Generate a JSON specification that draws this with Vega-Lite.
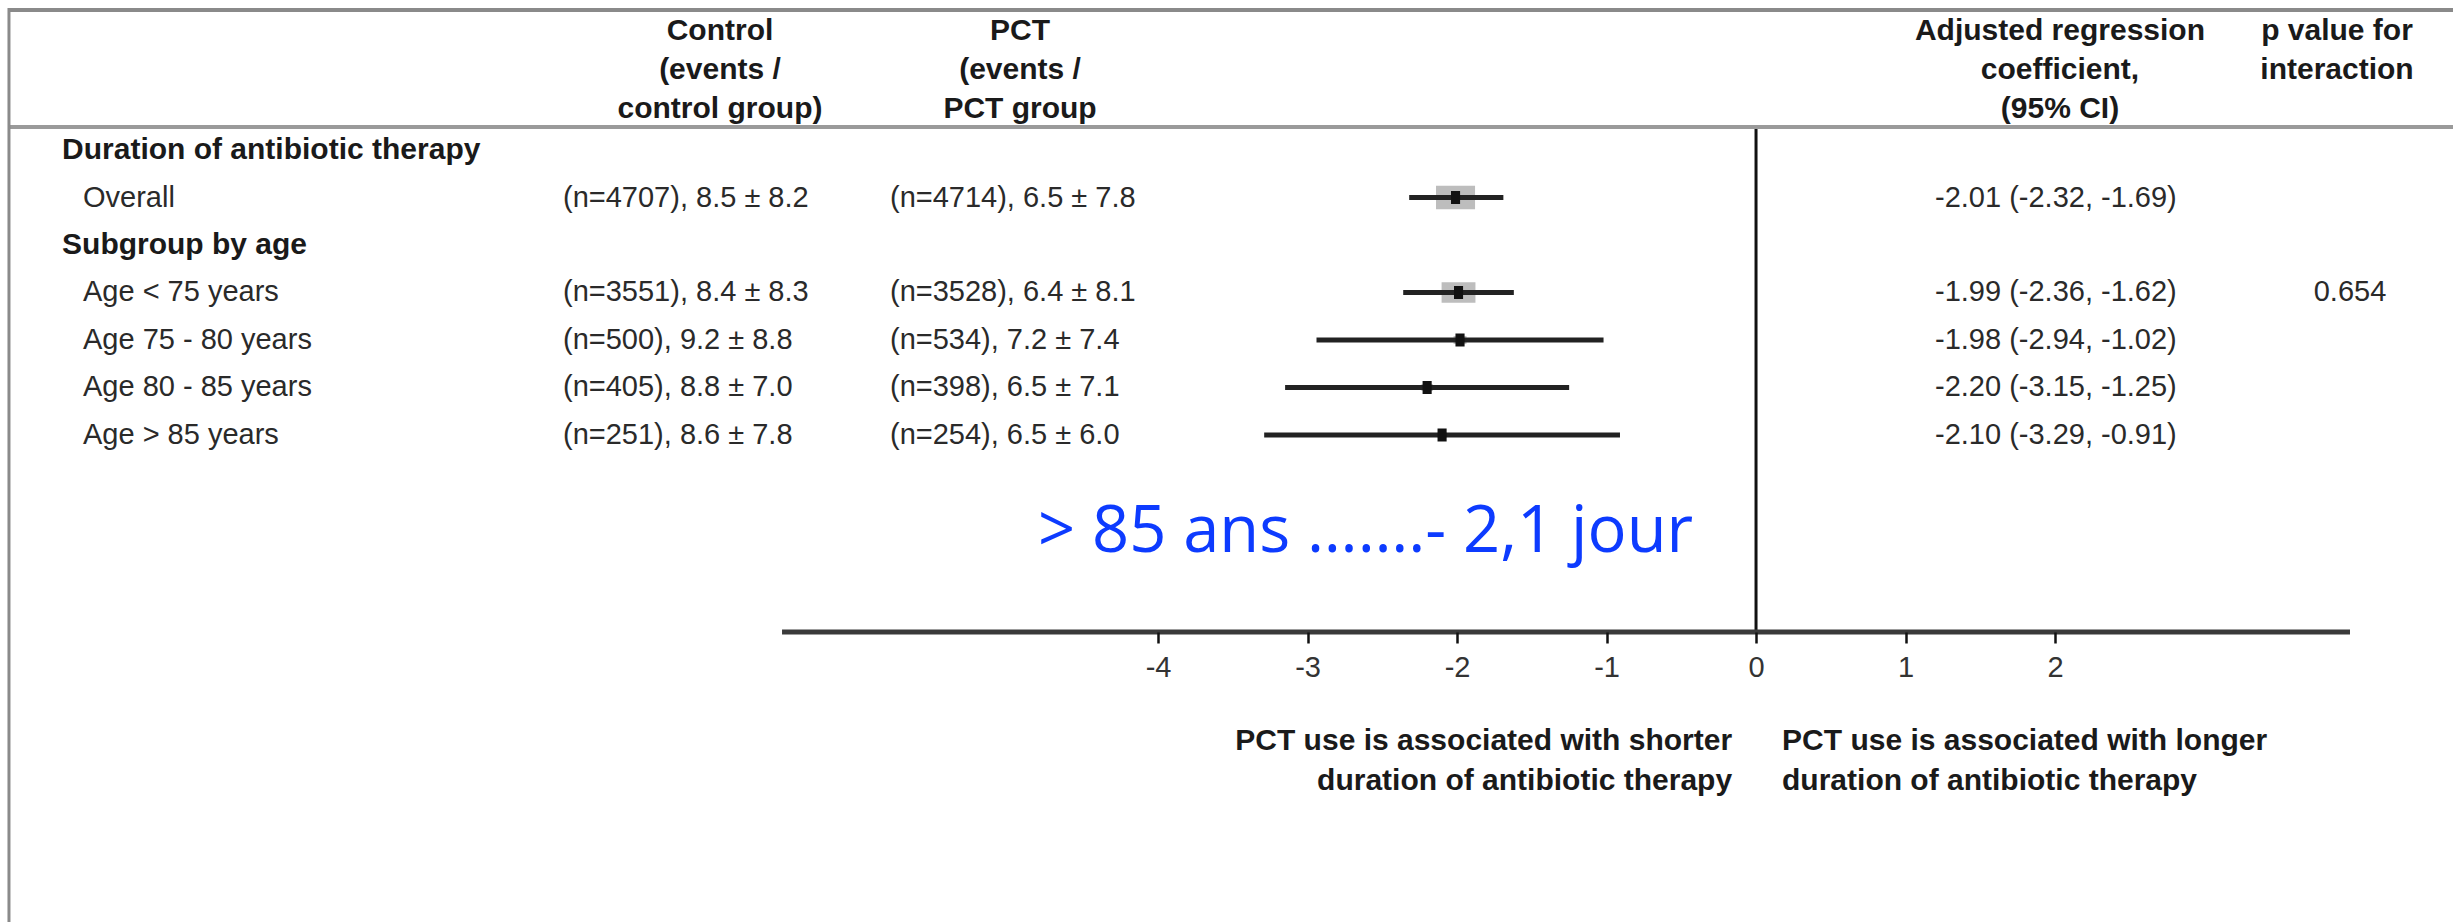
{
  "$schema": "https://vega.github.io/schema/vega-lite/v6.json",
  "width": 2453,
  "height": 922,
  "autosize": "none",
  "padding": 0,
  "background": "white",
  "config": {"view": {"stroke": null}},
  "data": {"values": [
    {"row": 0, "kind": "section", "label": "Duration of antibiotic therapy"},
    {"row": 1, "kind": "item", "label": "Overall", "control": "(n=4707), 8.5 ± 8.2", "pct": "(n=4714), 6.5 ± 7.8", "coef": "-2.01 (-2.32, -1.69)", "est": -2.01, "lo": -2.32, "hi": -1.69, "n": 9421},
    {"row": 2, "kind": "section", "label": "Subgroup by age"},
    {"row": 3, "kind": "item", "label": "Age < 75 years", "control": "(n=3551), 8.4 ± 8.3", "pct": "(n=3528), 6.4 ± 8.1", "coef": "-1.99 (-2.36, -1.62)", "p": "0.654", "est": -1.99, "lo": -2.36, "hi": -1.62, "n": 7079},
    {"row": 4, "kind": "item", "label": "Age 75 - 80 years", "control": "(n=500), 9.2 ± 8.8", "pct": "(n=534), 7.2 ± 7.4", "coef": "-1.98 (-2.94, -1.02)", "est": -1.98, "lo": -2.94, "hi": -1.02, "n": 1034},
    {"row": 5, "kind": "item", "label": "Age 80 - 85 years", "control": "(n=405), 8.8 ± 7.0", "pct": "(n=398), 6.5 ± 7.1", "coef": "-2.20 (-3.15, -1.25)", "est": -2.20, "lo": -3.15, "hi": -1.25, "n": 803},
    {"row": 6, "kind": "item", "label": "Age > 85 years", "control": "(n=251), 8.6 ± 7.8", "pct": "(n=254),  6.5 ± 6.0", "coef": "-2.10 (-3.29, -0.91)", "est": -2.10, "lo": -3.29, "hi": -0.91, "n": 505}
  ]},
  "layer": [
    {
      "data": {"values": [{}]},
      "mark": {"type": "rule", "color": "#8a8a8a", "strokeWidth": 4},
      "encoding": {
        "x": {"datum": -11.686, "scale": {"domain": [-11.746, 4.662], "nice": false, "zero": false}, "axis": {"orient": "bottom", "offset": -290, "domain": false, "grid": false, "title": null, "values": [-4, -3, -2, -1, 0, 1, 2], "tickSize": 11, "tickWidth": 2.5, "tickColor": "#111111", "labelFont": "Liberation Sans", "labelFontSize": 29, "labelColor": "#333333", "labelPadding": 10, "labelFlush": false, "labelOverlap": false, "labelExpr": "datum.value + ''", "zindex": 1}},
        "x2": {"datum": 4.662},
        "y": {"datum": -2.947, "scale": {"domain": [-3.158, 16.253], "reverse": true, "nice": false, "zero": false}, "axis": null}
      }
    },
    {
      "data": {"values": [{}]},
      "mark": {"type": "rule", "color": "#9a9a9a", "strokeWidth": 4},
      "encoding": {
        "x": {"datum": -11.686, "scale": {"domain": [-11.746, 4.662], "nice": false, "zero": false}, "axis": {"orient": "bottom", "offset": -290, "domain": false, "grid": false, "title": null, "values": [-4, -3, -2, -1, 0, 1, 2], "tickSize": 11, "tickWidth": 2.5, "tickColor": "#111111", "labelFont": "Liberation Sans", "labelFontSize": 29, "labelColor": "#333333", "labelPadding": 10, "labelFlush": false, "labelOverlap": false, "labelExpr": "datum.value + ''", "zindex": 1}},
        "x2": {"datum": 4.662},
        "y": {"datum": -0.484, "scale": {"domain": [-3.158, 16.253], "reverse": true, "nice": false, "zero": false}, "axis": null}
      }
    },
    {
      "data": {"values": [{}]},
      "mark": {"type": "rule", "color": "#8a8a8a", "strokeWidth": 3},
      "encoding": {
        "x": {"datum": -11.686, "scale": {"domain": [-11.746, 4.662], "nice": false, "zero": false}, "axis": {"orient": "bottom", "offset": -290, "domain": false, "grid": false, "title": null, "values": [-4, -3, -2, -1, 0, 1, 2], "tickSize": 11, "tickWidth": 2.5, "tickColor": "#111111", "labelFont": "Liberation Sans", "labelFontSize": 29, "labelColor": "#333333", "labelPadding": 10, "labelFlush": false, "labelOverlap": false, "labelExpr": "datum.value + ''", "zindex": 1}},
        "y": {"datum": -2.99, "scale": {"domain": [-3.158, 16.253], "reverse": true, "nice": false, "zero": false}, "axis": null},
        "y2": {"datum": 16.253}
      }
    },
    {
      "data": {"values": [{}]},
      "mark": {"type": "rule", "color": "#111111", "strokeWidth": 3},
      "encoding": {
        "x": {"datum": 0, "scale": {"domain": [-11.746, 4.662], "nice": false, "zero": false}, "axis": {"orient": "bottom", "offset": -290, "domain": false, "grid": false, "title": null, "values": [-4, -3, -2, -1, 0, 1, 2], "tickSize": 11, "tickWidth": 2.5, "tickColor": "#111111", "labelFont": "Liberation Sans", "labelFontSize": 29, "labelColor": "#333333", "labelPadding": 10, "labelFlush": false, "labelOverlap": false, "labelExpr": "datum.value + ''", "zindex": 1}},
        "y": {"datum": -0.442, "scale": {"domain": [-3.158, 16.253], "reverse": true, "nice": false, "zero": false}, "axis": null},
        "y2": {"datum": 10.147}
      }
    },
    {
      "data": {"values": [{}]},
      "mark": {"type": "rule", "color": "#3a3a3a", "strokeWidth": 5},
      "encoding": {
        "x": {"datum": -6.515, "scale": {"domain": [-11.746, 4.662], "nice": false, "zero": false}, "axis": {"orient": "bottom", "offset": -290, "domain": false, "grid": false, "title": null, "values": [-4, -3, -2, -1, 0, 1, 2], "tickSize": 11, "tickWidth": 2.5, "tickColor": "#111111", "labelFont": "Liberation Sans", "labelFontSize": 29, "labelColor": "#333333", "labelPadding": 10, "labelFlush": false, "labelOverlap": false, "labelExpr": "datum.value + ''", "zindex": 1}},
        "x2": {"datum": 3.973},
        "y": {"datum": 10.147, "scale": {"domain": [-3.158, 16.253], "reverse": true, "nice": false, "zero": false}, "axis": null}
      }
    },
    {
      "transform": [{"filter": "isValid(datum.est)"}],
      "mark": {"type": "point", "filled": true, "color": "#bdbdbd", "opacity": 1, "shape": "M-1.65,-1H1.65V1H-1.65Z"},
      "encoding": {
        "x": {"field": "est", "type": "quantitative", "scale": {"domain": [-11.746, 4.662], "nice": false, "zero": false}, "axis": {"orient": "bottom", "offset": -290, "domain": false, "grid": false, "title": null, "values": [-4, -3, -2, -1, 0, 1, 2], "tickSize": 11, "tickWidth": 2.5, "tickColor": "#111111", "labelFont": "Liberation Sans", "labelFontSize": 29, "labelColor": "#333333", "labelPadding": 10, "labelFlush": false, "labelOverlap": false, "labelExpr": "datum.value + ''", "zindex": 1}},
        "y": {"field": "row", "type": "quantitative", "scale": {"domain": [-3.158, 16.253], "reverse": true, "nice": false, "zero": false}, "axis": null},
        "size": {"field": "n", "type": "quantitative", "scale": {"domain": [0, 9421], "range": [0, 560]}, "legend": null}
      }
    },
    {
      "transform": [{"filter": "isValid(datum.est)"}],
      "mark": {"type": "rule", "color": "#222222", "strokeWidth": 5},
      "encoding": {
        "x": {"field": "lo", "type": "quantitative", "scale": {"domain": [-11.746, 4.662], "nice": false, "zero": false}, "axis": {"orient": "bottom", "offset": -290, "domain": false, "grid": false, "title": null, "values": [-4, -3, -2, -1, 0, 1, 2], "tickSize": 11, "tickWidth": 2.5, "tickColor": "#111111", "labelFont": "Liberation Sans", "labelFontSize": 29, "labelColor": "#333333", "labelPadding": 10, "labelFlush": false, "labelOverlap": false, "labelExpr": "datum.value + ''", "zindex": 1}},
        "x2": {"field": "hi"},
        "y": {"field": "row", "type": "quantitative", "scale": {"domain": [-3.158, 16.253], "reverse": true, "nice": false, "zero": false}, "axis": null}
      }
    },
    {
      "transform": [{"filter": "isValid(datum.est)"}],
      "mark": {"type": "point", "filled": true, "color": "#111111", "opacity": 1, "size": 169, "shape": "M-0.7,-1H0.7V1H-0.7Z"},
      "encoding": {
        "x": {"field": "est", "type": "quantitative", "scale": {"domain": [-11.746, 4.662], "nice": false, "zero": false}, "axis": {"orient": "bottom", "offset": -290, "domain": false, "grid": false, "title": null, "values": [-4, -3, -2, -1, 0, 1, 2], "tickSize": 11, "tickWidth": 2.5, "tickColor": "#111111", "labelFont": "Liberation Sans", "labelFontSize": 29, "labelColor": "#333333", "labelPadding": 10, "labelFlush": false, "labelOverlap": false, "labelExpr": "datum.value + ''", "zindex": 1}},
        "y": {"field": "row", "type": "quantitative", "scale": {"domain": [-3.158, 16.253], "reverse": true, "nice": false, "zero": false}, "axis": null}
      }
    },
    {
      "transform": [{"filter": "datum.kind == 'section'"}],
      "mark": {"type": "text", "align": "left", "baseline": "middle", "font": "Liberation Sans", "fontSize": 30, "fontWeight": "bold", "color": "#1a1a1a"},
      "encoding": {
        "x": {"datum": -11.331, "scale": {"domain": [-11.746, 4.662], "nice": false, "zero": false}, "axis": {"orient": "bottom", "offset": -290, "domain": false, "grid": false, "title": null, "values": [-4, -3, -2, -1, 0, 1, 2], "tickSize": 11, "tickWidth": 2.5, "tickColor": "#111111", "labelFont": "Liberation Sans", "labelFontSize": 29, "labelColor": "#333333", "labelPadding": 10, "labelFlush": false, "labelOverlap": false, "labelExpr": "datum.value + ''", "zindex": 1}},
        "y": {"field": "row", "type": "quantitative", "scale": {"domain": [-3.158, 16.253], "reverse": true, "nice": false, "zero": false}, "axis": null},
        "text": {"field": "label", "type": "nominal"}
      }
    },
    {
      "transform": [{"filter": "datum.kind == 'item'"}],
      "mark": {"type": "text", "align": "left", "baseline": "middle", "font": "Liberation Sans", "fontSize": 29, "color": "#2a2a2a"},
      "encoding": {
        "x": {"datum": -11.191, "scale": {"domain": [-11.746, 4.662], "nice": false, "zero": false}, "axis": {"orient": "bottom", "offset": -290, "domain": false, "grid": false, "title": null, "values": [-4, -3, -2, -1, 0, 1, 2], "tickSize": 11, "tickWidth": 2.5, "tickColor": "#111111", "labelFont": "Liberation Sans", "labelFontSize": 29, "labelColor": "#333333", "labelPadding": 10, "labelFlush": false, "labelOverlap": false, "labelExpr": "datum.value + ''", "zindex": 1}},
        "y": {"field": "row", "type": "quantitative", "scale": {"domain": [-3.158, 16.253], "reverse": true, "nice": false, "zero": false}, "axis": null},
        "text": {"field": "label", "type": "nominal"}
      }
    },
    {
      "transform": [{"filter": "datum.kind == 'item'"}],
      "mark": {"type": "text", "align": "left", "baseline": "middle", "font": "Liberation Sans", "fontSize": 29, "color": "#2a2a2a"},
      "encoding": {
        "x": {"datum": -7.98, "scale": {"domain": [-11.746, 4.662], "nice": false, "zero": false}, "axis": {"orient": "bottom", "offset": -290, "domain": false, "grid": false, "title": null, "values": [-4, -3, -2, -1, 0, 1, 2], "tickSize": 11, "tickWidth": 2.5, "tickColor": "#111111", "labelFont": "Liberation Sans", "labelFontSize": 29, "labelColor": "#333333", "labelPadding": 10, "labelFlush": false, "labelOverlap": false, "labelExpr": "datum.value + ''", "zindex": 1}},
        "y": {"field": "row", "type": "quantitative", "scale": {"domain": [-3.158, 16.253], "reverse": true, "nice": false, "zero": false}, "axis": null},
        "text": {"field": "control", "type": "nominal"}
      }
    },
    {
      "transform": [{"filter": "datum.kind == 'item'"}],
      "mark": {"type": "text", "align": "left", "baseline": "middle", "font": "Liberation Sans", "fontSize": 29, "color": "#2a2a2a"},
      "encoding": {
        "x": {"datum": -5.793, "scale": {"domain": [-11.746, 4.662], "nice": false, "zero": false}, "axis": {"orient": "bottom", "offset": -290, "domain": false, "grid": false, "title": null, "values": [-4, -3, -2, -1, 0, 1, 2], "tickSize": 11, "tickWidth": 2.5, "tickColor": "#111111", "labelFont": "Liberation Sans", "labelFontSize": 29, "labelColor": "#333333", "labelPadding": 10, "labelFlush": false, "labelOverlap": false, "labelExpr": "datum.value + ''", "zindex": 1}},
        "y": {"field": "row", "type": "quantitative", "scale": {"domain": [-3.158, 16.253], "reverse": true, "nice": false, "zero": false}, "axis": null},
        "text": {"field": "pct", "type": "nominal"}
      }
    },
    {
      "transform": [{"filter": "datum.kind == 'item'"}],
      "mark": {"type": "text", "align": "left", "baseline": "middle", "font": "Liberation Sans", "fontSize": 29, "color": "#2a2a2a"},
      "encoding": {
        "x": {"datum": 1.197, "scale": {"domain": [-11.746, 4.662], "nice": false, "zero": false}, "axis": {"orient": "bottom", "offset": -290, "domain": false, "grid": false, "title": null, "values": [-4, -3, -2, -1, 0, 1, 2], "tickSize": 11, "tickWidth": 2.5, "tickColor": "#111111", "labelFont": "Liberation Sans", "labelFontSize": 29, "labelColor": "#333333", "labelPadding": 10, "labelFlush": false, "labelOverlap": false, "labelExpr": "datum.value + ''", "zindex": 1}},
        "y": {"field": "row", "type": "quantitative", "scale": {"domain": [-3.158, 16.253], "reverse": true, "nice": false, "zero": false}, "axis": null},
        "text": {"field": "coef", "type": "nominal"}
      }
    },
    {
      "transform": [{"filter": "isValid(datum.p)"}],
      "mark": {"type": "text", "align": "center", "baseline": "middle", "font": "Liberation Sans", "fontSize": 29, "color": "#2a2a2a"},
      "encoding": {
        "x": {"datum": 3.973, "scale": {"domain": [-11.746, 4.662], "nice": false, "zero": false}, "axis": {"orient": "bottom", "offset": -290, "domain": false, "grid": false, "title": null, "values": [-4, -3, -2, -1, 0, 1, 2], "tickSize": 11, "tickWidth": 2.5, "tickColor": "#111111", "labelFont": "Liberation Sans", "labelFontSize": 29, "labelColor": "#333333", "labelPadding": 10, "labelFlush": false, "labelOverlap": false, "labelExpr": "datum.value + ''", "zindex": 1}},
        "y": {"field": "row", "type": "quantitative", "scale": {"domain": [-3.158, 16.253], "reverse": true, "nice": false, "zero": false}, "axis": null},
        "text": {"field": "p", "type": "nominal"}
      }
    },
    {
      "data": {"values": [{}]},
      "mark": {"type": "text", "align": "center", "baseline": "middle", "font": "Liberation Sans", "fontSize": 30, "fontWeight": "bold", "color": "#1a1a1a", "lineHeight": 39, "text": ["Control", "(events /", "control group)"]},
      "encoding": {
        "x": {"datum": -6.93, "scale": {"domain": [-11.746, 4.662], "nice": false, "zero": false}, "axis": {"orient": "bottom", "offset": -290, "domain": false, "grid": false, "title": null, "values": [-4, -3, -2, -1, 0, 1, 2], "tickSize": 11, "tickWidth": 2.5, "tickColor": "#111111", "labelFont": "Liberation Sans", "labelFontSize": 29, "labelColor": "#333333", "labelPadding": 10, "labelFlush": false, "labelOverlap": false, "labelExpr": "datum.value + ''", "zindex": 1}},
        "y": {"datum": -2.505, "scale": {"domain": [-3.158, 16.253], "reverse": true, "nice": false, "zero": false}, "axis": null}
      }
    },
    {
      "data": {"values": [{}]},
      "mark": {"type": "text", "align": "center", "baseline": "middle", "font": "Liberation Sans", "fontSize": 30, "fontWeight": "bold", "color": "#1a1a1a", "lineHeight": 39, "text": ["PCT", "(events /", "PCT group"]},
      "encoding": {
        "x": {"datum": -4.923, "scale": {"domain": [-11.746, 4.662], "nice": false, "zero": false}, "axis": {"orient": "bottom", "offset": -290, "domain": false, "grid": false, "title": null, "values": [-4, -3, -2, -1, 0, 1, 2], "tickSize": 11, "tickWidth": 2.5, "tickColor": "#111111", "labelFont": "Liberation Sans", "labelFontSize": 29, "labelColor": "#333333", "labelPadding": 10, "labelFlush": false, "labelOverlap": false, "labelExpr": "datum.value + ''", "zindex": 1}},
        "y": {"datum": -2.505, "scale": {"domain": [-3.158, 16.253], "reverse": true, "nice": false, "zero": false}, "axis": null}
      }
    },
    {
      "data": {"values": [{}]},
      "mark": {"type": "text", "align": "center", "baseline": "middle", "font": "Liberation Sans", "fontSize": 30, "fontWeight": "bold", "color": "#1a1a1a", "lineHeight": 39, "text": ["Adjusted regression", "coefficient,", "(95% CI)"]},
      "encoding": {
        "x": {"datum": 2.033, "scale": {"domain": [-11.746, 4.662], "nice": false, "zero": false}, "axis": {"orient": "bottom", "offset": -290, "domain": false, "grid": false, "title": null, "values": [-4, -3, -2, -1, 0, 1, 2], "tickSize": 11, "tickWidth": 2.5, "tickColor": "#111111", "labelFont": "Liberation Sans", "labelFontSize": 29, "labelColor": "#333333", "labelPadding": 10, "labelFlush": false, "labelOverlap": false, "labelExpr": "datum.value + ''", "zindex": 1}},
        "y": {"datum": -2.505, "scale": {"domain": [-3.158, 16.253], "reverse": true, "nice": false, "zero": false}, "axis": null}
      }
    },
    {
      "data": {"values": [{}]},
      "mark": {"type": "text", "align": "center", "baseline": "middle", "font": "Liberation Sans", "fontSize": 30, "fontWeight": "bold", "color": "#1a1a1a", "lineHeight": 39, "text": ["p value for", "interaction"]},
      "encoding": {
        "x": {"datum": 3.886, "scale": {"domain": [-11.746, 4.662], "nice": false, "zero": false}, "axis": {"orient": "bottom", "offset": -290, "domain": false, "grid": false, "title": null, "values": [-4, -3, -2, -1, 0, 1, 2], "tickSize": 11, "tickWidth": 2.5, "tickColor": "#111111", "labelFont": "Liberation Sans", "labelFontSize": 29, "labelColor": "#333333", "labelPadding": 10, "labelFlush": false, "labelOverlap": false, "labelExpr": "datum.value + ''", "zindex": 1}},
        "y": {"datum": -2.505, "scale": {"domain": [-3.158, 16.253], "reverse": true, "nice": false, "zero": false}, "axis": null}
      }
    },
    {
      "data": {"values": [{}]},
      "mark": {"type": "text", "align": "right", "baseline": "middle", "font": "Liberation Sans", "fontSize": 30, "fontWeight": "bold", "color": "#1a1a1a", "lineHeight": 40, "text": ["PCT use is associated  with shorter", "duration of antibiotic therapy"]},
      "encoding": {
        "x": {"datum": -0.16, "scale": {"domain": [-11.746, 4.662], "nice": false, "zero": false}, "axis": {"orient": "bottom", "offset": -290, "domain": false, "grid": false, "title": null, "values": [-4, -3, -2, -1, 0, 1, 2], "tickSize": 11, "tickWidth": 2.5, "tickColor": "#111111", "labelFont": "Liberation Sans", "labelFontSize": 29, "labelColor": "#333333", "labelPadding": 10, "labelFlush": false, "labelOverlap": false, "labelExpr": "datum.value + ''", "zindex": 1}},
        "y": {"datum": 12.442, "scale": {"domain": [-3.158, 16.253], "reverse": true, "nice": false, "zero": false}, "axis": null}
      }
    },
    {
      "data": {"values": [{}]},
      "mark": {"type": "text", "align": "left", "baseline": "middle", "font": "Liberation Sans", "fontSize": 30, "fontWeight": "bold", "color": "#1a1a1a", "lineHeight": 40, "text": ["PCT use is associated  with longer", "duration of antibiotic therapy"]},
      "encoding": {
        "x": {"datum": 0.174, "scale": {"domain": [-11.746, 4.662], "nice": false, "zero": false}, "axis": {"orient": "bottom", "offset": -290, "domain": false, "grid": false, "title": null, "values": [-4, -3, -2, -1, 0, 1, 2], "tickSize": 11, "tickWidth": 2.5, "tickColor": "#111111", "labelFont": "Liberation Sans", "labelFontSize": 29, "labelColor": "#333333", "labelPadding": 10, "labelFlush": false, "labelOverlap": false, "labelExpr": "datum.value + ''", "zindex": 1}},
        "y": {"datum": 12.442, "scale": {"domain": [-3.158, 16.253], "reverse": true, "nice": false, "zero": false}, "axis": null}
      }
    },
    {
      "data": {"values": [{}]},
      "mark": {"type": "text", "align": "left", "baseline": "alphabetic", "font": "Open Sans", "fontSize": 65, "color": "#0d3bff", "text": "> 85 ans …….- 2,1 jour"},
      "encoding": {
        "x": {"datum": -4.803, "scale": {"domain": [-11.746, 4.662], "nice": false, "zero": false}, "axis": {"orient": "bottom", "offset": -290, "domain": false, "grid": false, "title": null, "values": [-4, -3, -2, -1, 0, 1, 2], "tickSize": 11, "tickWidth": 2.5, "tickColor": "#111111", "labelFont": "Liberation Sans", "labelFontSize": 29, "labelColor": "#333333", "labelPadding": 10, "labelFlush": false, "labelOverlap": false, "labelExpr": "datum.value + ''", "zindex": 1}},
        "y": {"datum": 8.463, "scale": {"domain": [-3.158, 16.253], "reverse": true, "nice": false, "zero": false}, "axis": null}
      }
    }
  ]
}
